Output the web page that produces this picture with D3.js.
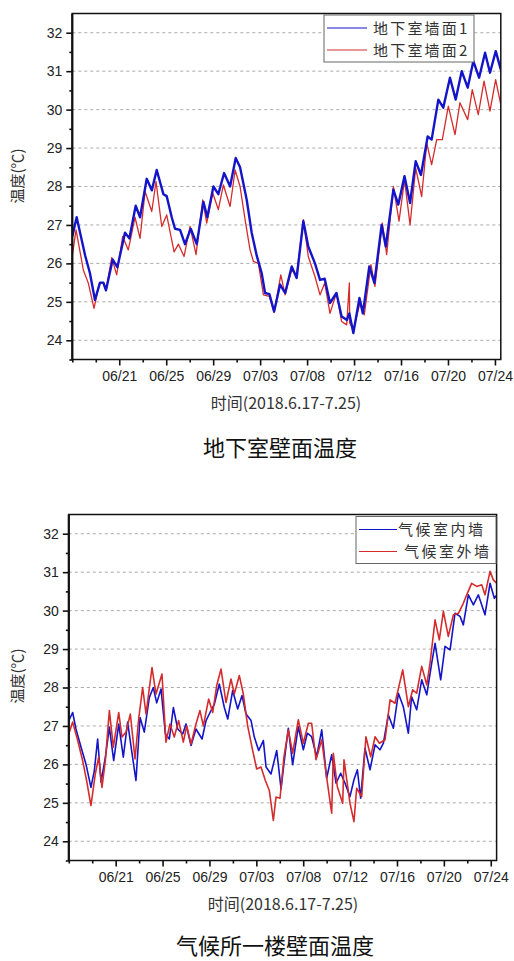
<!DOCTYPE html>
<html>
<head>
<meta charset="utf-8">
<script src="https://cdn.jsdelivr.net/npm/d3@7"></script>
<style>
  body { margin: 0; background: #fff; }
  svg { display: block; }
  .tick text { font-family: "Liberation Sans", Arial, sans-serif; font-size: 14px; fill: #222; }
  .cjk { font-family: "Noto Sans CJK SC", sans-serif; }
</style>
</head>
<body>
<svg id="fig" width="514" height="961"></svg>
<script>
// ---- data (day 0 = 06/17) ----
const tempTicks = [24, 25, 26, 27, 28, 29, 30, 31, 32];
const dayTicks = [4, 8, 12, 16, 20, 24, 28, 32, 36];
const dayTickLabels = ['06/21', '06/25', '06/29', '07/03', '07/08', '07/12', '07/16', '07/20', '07/24'];
const minorDayTicks = [0, 2, 6, 10, 14, 18, 22, 26, 30, 34];

const basementNames = ['地下室墙面1', '地下室墙面2'];
const climateNames = ['气候室内墙', '气候室外墙'];

// 地下室墙面1
const basementWall1 = [[0,26.7],[0.37,27.2],[1.1,26.2],[1.5,25.75],[1.93,25.05],[2.36,25.5],[2.65,25.5],[2.87,25.3],[3.44,26.1],[3.84,25.9],[4.49,26.8],[4.86,26.65],[5.4,27.5],[5.77,27.2],[6.34,28.2],[6.77,27.9],[7.19,28.43],[7.76,27.8],[8.04,27.75],[8.47,27.2],[8.75,26.9],[9.18,26.87],[9.6,26.5],[10.09,26.9],[10.6,26.5],[11.17,27.6],[11.5,27.2],[12.02,28.0],[12.44,27.8],[12.93,28.35],[13.44,28.0],[13.92,28.74],[14.29,28.5],[14.86,27.65],[15.28,26.8],[15.71,26.2],[16.13,25.75],[16.42,25.23],[16.79,25.2],[17.19,24.75],[17.7,25.45],[18.13,25.23],[18.69,25.92],[19.11,25.62],[19.68,27.1],[20.1,26.44],[20.67,26.0],[21.1,25.57],[21.5,25.6],[21.95,24.97],[22.5,25.23],[22.94,24.62],[23.4,24.53],[23.6,24.7],[23.94,24.19],[24.46,25.1],[24.75,24.7],[25.3,25.92],[25.73,25.49],[26.35,27.0],[26.7,26.44],[27.35,27.92],[27.77,27.53],[28.3,28.27],[28.77,27.57],[29.25,28.66],[29.7,28.3],[30.27,29.3],[30.61,29.22],[31.18,30.26],[31.6,30.05],[32.17,30.83],[32.66,30.26],[33.17,31.0],[33.68,30.57],[34.16,31.26],[34.65,30.83],[35.16,31.48],[35.58,30.96],[36.07,31.52],[36.5,31.04]];

// 地下室墙面2
const basementWall2 = [[0,26.2],[0.32,26.87],[0.94,25.83],[1.37,25.48],[1.85,24.83],[2.3,25.48],[2.6,25.5],[2.87,25.3],[3.36,26.15],[3.78,25.7],[4.29,26.7],[4.77,26.35],[5.34,27.2],[5.77,26.65],[6.2,27.87],[6.77,27.35],[7.13,28.13],[7.62,26.96],[8.04,27.26],[8.67,26.3],[9.04,26.5],[9.52,26.18],[10.03,26.96],[10.54,26.23],[11.11,27.65],[11.45,27.05],[11.96,27.83],[12.44,27.4],[12.87,28.04],[13.44,27.48],[13.87,28.43],[14.29,28.0],[14.72,27.13],[15.14,26.35],[15.43,26.05],[15.85,26.0],[16.28,25.18],[16.79,25.14],[17.19,24.72],[17.76,25.7],[18.13,25.18],[18.69,25.83],[19.11,25.7],[19.68,27.14],[20.1,26.18],[20.67,25.66],[21.1,25.18],[21.5,25.49],[21.95,24.7],[22.5,25.23],[22.94,24.49],[23.37,24.4],[23.6,25.49],[23.63,24.45],[23.94,24.27],[24.5,24.97],[24.87,24.66],[25.44,25.97],[25.78,25.4],[26.41,27.05],[26.78,26.23],[27.35,28.0],[27.83,27.1],[28.3,28.18],[28.77,27.0],[29.25,28.48],[29.76,27.74],[30.19,29.13],[30.61,28.57],[31.04,29.22],[31.52,29.22],[32.03,30.09],[32.6,29.35],[33.02,30.18],[33.68,29.74],[34.07,30.52],[34.58,29.87],[35.07,30.74],[35.58,29.96],[36.06,30.78],[36.5,30.13]];

// 气候室内墙
const climateInner = [[0,27.14],[0.33,27.35],[0.61,26.92],[1.04,26.45],[1.47,26.0],[1.89,25.4],[2.18,25.84],[2.46,26.66],[2.75,25.54],[3.12,26.19],[3.46,26.97],[3.83,26.1],[4.26,27.05],[4.65,26.19],[5.02,27.1],[5.36,26.36],[5.73,25.58],[6.08,27.22],[6.44,26.84],[6.87,27.74],[7.21,28.0],[7.5,27.6],[7.87,27.96],[8.24,26.79],[8.58,26.66],[8.92,27.48],[9.29,26.92],[9.72,26.79],[10.0,27.05],[10.43,26.49],[10.85,26.92],[11.37,26.66],[11.71,27.14],[12.05,27.35],[12.42,27.57],[12.84,28.09],[13.27,27.48],[13.56,27.18],[13.98,27.92],[14.41,27.44],[14.78,27.79],[15.12,27.31],[15.55,27.14],[15.83,26.71],[16.2,26.36],[16.6,26.62],[16.83,25.93],[17.25,25.75],[17.74,26.36],[18.11,25.36],[18.36,26.03],[18.73,26.94],[19.1,25.99],[19.58,26.98],[20.01,26.38],[20.35,26.81],[20.72,26.72],[21.15,26.2],[21.58,26.9],[22.0,25.64],[22.43,26.25],[22.8,25.51],[23.2,25.77],[23.57,25.51],[23.99,25.16],[24.33,25.6],[24.62,25.86],[24.9,25.12],[25.27,26.42],[25.7,25.86],[26.13,26.51],[26.55,26.38],[26.84,26.55],[27.26,27.29],[27.69,26.94],[28.12,27.85],[28.54,27.5],[28.97,26.81],[29.25,27.76],[29.68,27.42],[30.11,28.2],[30.54,27.81],[30.96,28.63],[31.25,29.15],[31.73,28.2],[32.1,29.07],[32.53,28.98],[32.95,29.93],[33.38,29.85],[33.66,29.63],[34.09,30.41],[34.52,30.15],[34.94,30.41],[35.51,29.89],[35.94,30.71],[36.31,30.32],[36.5,30.4]];

// 气候室外墙
const climateOuter = [[0,26.79],[0.33,27.1],[0.76,26.62],[1.18,26.1],[1.52,25.58],[1.89,24.93],[2.26,25.75],[2.55,26.19],[2.83,25.4],[3.12,26.1],[3.46,27.4],[3.8,26.45],[4.26,27.35],[4.54,26.71],[4.88,26.84],[5.25,27.31],[5.65,26.14],[5.96,27.18],[6.3,28.0],[6.59,27.31],[7.1,28.52],[7.44,27.83],[7.95,28.35],[8.29,26.58],[8.63,27.05],[9.0,26.71],[9.37,27.14],[9.77,26.58],[10.06,27.0],[10.43,26.53],[10.85,27.05],[11.19,27.4],[11.48,27.0],[11.93,27.7],[12.28,27.35],[12.62,28.05],[12.99,28.48],[13.41,27.61],[13.84,28.22],[14.12,27.83],[14.55,28.31],[14.89,27.83],[15.26,27.0],[15.69,26.36],[16.03,25.88],[16.4,25.93],[16.77,25.58],[17.11,25.32],[17.45,24.54],[17.68,25.15],[18.02,25.12],[18.36,26.2],[18.73,26.9],[19.1,26.29],[19.58,27.16],[20.01,26.55],[20.44,27.07],[20.72,27.07],[21.09,26.12],[21.58,26.64],[21.95,25.77],[22.43,24.73],[22.57,26.29],[22.91,25.42],[23.37,24.99],[23.48,26.12],[23.99,24.99],[24.33,24.51],[24.56,25.38],[24.99,25.16],[25.35,26.72],[25.76,26.2],[26.13,26.72],[26.5,26.55],[26.98,26.64],[27.41,27.68],[27.83,27.59],[28.49,28.46],[28.97,27.5],[29.34,27.94],[29.68,27.85],[30.11,28.55],[30.54,28.07],[30.82,28.63],[31.25,29.76],[31.61,29.24],[31.96,29.98],[32.38,29.33],[32.81,29.89],[33.24,29.93],[33.66,30.19],[33.95,30.41],[34.37,30.71],[34.8,30.63],[35.23,30.67],[35.51,30.41],[35.94,31.02],[36.22,30.8],[36.5,30.71]];

class WallTempChart {

  constructor(_config, _series) {
    this.config = {
      parentElement: _config.parentElement,
      left: _config.left,
      top: _config.top,
      right: _config.right,
      bottom: _config.bottom,
      lineWidths: _config.lineWidths,
      drawOrder: _config.drawOrder,
      legend: _config.legend,
      xTitleX: _config.xTitleX,
      caption: _config.caption,
      captionX: _config.captionX,
      captionY: _config.captionY,
      yTitleY: _config.yTitleY,
      colors: ['#1414c8', '#d42c2c']
    };
    this.series = _series;
    this.initVis();
  }

  initVis() {
    let vis = this;
    const c = vis.config;
    vis.width = c.right - c.left;
    vis.height = c.bottom - c.top;

    vis.svg = d3.select(c.parentElement);
    vis.chart = vis.svg.append('g')
        .attr('transform', `translate(${c.left},${c.top})`);

    vis.x = d3.scaleLinear().domain([0, 36.5]).range([0, vis.width]);
    vis.y = d3.scaleLinear().domain([23.5, 32.5]).range([vis.height, 0]);

    vis.renderVis();
  }

  renderVis() {
    let vis = this;
    const c = vis.config;

    // dashed grid
    vis.chart.selectAll('.grid')
      .data(tempTicks)
      .join('line')
        .attr('class', 'grid')
        .attr('x1', 0).attr('x2', vis.width)
        .attr('y1', d => vis.y(d)).attr('y2', d => vis.y(d))
        .attr('stroke', '#a0a0a0')
        .attr('stroke-width', 0.9)
        .attr('stroke-dasharray', '3,3');

    // series lines
    const clipId = 'clip' + Math.round(c.top);
    vis.chart.append('clipPath').attr('id', clipId)
      .append('rect').attr('width', vis.width).attr('height', vis.height);

    const line = d3.line()
        .x(d => vis.x(d[0]))
        .y(d => vis.y(d[1]));

    c.drawOrder.forEach(i => {
      vis.chart.append('path')
          .datum(vis.series[i])
          .attr('clip-path', `url(#${clipId})`)
          .attr('fill', 'none')
          .attr('stroke', c.colors[i])
          .attr('stroke-width', c.lineWidths[i])
          .attr('stroke-linejoin', 'round')
          .attr('d', line);
    });

    // axes
    const yAxis = vis.chart.append('g')
        .call(d3.axisLeft(vis.y).tickValues(tempTicks).tickSize(6).tickPadding(4));
    const yMinor = vis.chart.append('g')
        .call(d3.axisLeft(vis.y).tickValues(tempTicks.map(t => t - 0.5)).tickSize(3).tickFormat(''));
    const xAxis = vis.chart.append('g')
        .attr('transform', `translate(0,${vis.height})`)
        .call(d3.axisBottom(vis.x).tickValues(dayTicks).tickSize(6).tickPadding(6)
          .tickFormat((d, i) => dayTickLabels[i]));
    const xMinor = vis.chart.append('g')
        .attr('transform', `translate(0,${vis.height})`)
        .call(d3.axisBottom(vis.x).tickValues(minorDayTicks).tickSize(3).tickFormat(''));

    [yAxis, yMinor, xAxis, xMinor].forEach(g => {
      g.select('.domain').remove();
      g.selectAll('.tick line').attr('stroke', '#111').attr('stroke-width', 1.6);
    });

    // frame
    vis.chart.append('rect')
        .attr('width', vis.width).attr('height', vis.height)
        .attr('fill', 'none').attr('stroke', '#111').attr('stroke-width', 1.5);
    vis.chart.append('line')
        .attr('x1', 0).attr('x2', 0).attr('y1', 0).attr('y2', vis.height)
        .attr('stroke', '#111').attr('stroke-width', 2.2);

    // legend
    const lg = c.legend;
    const legend = vis.svg.append('g');
    legend.append('rect')
        .attr('x', lg.x).attr('y', lg.y).attr('width', lg.w).attr('height', lg.h)
        .attr('fill', '#fff').attr('stroke', '#666').attr('stroke-width', 1);
    lg.names.forEach((name, i) => {
      const ly = lg.y + lg.rowY[i];
      legend.append('line')
          .attr('x1', lg.x + 3).attr('x2', lg.x + lg.lineLen)
          .attr('y1', ly).attr('y2', ly)
          .attr('stroke', c.colors[i]).attr('stroke-width', 1.2);
      legend.append('text')
          .attr('class', 'cjk')
          .attr('x', lg.textX[i]).attr('y', ly + 5.5)
          .attr('font-size', 15)
          .attr('letter-spacing', lg.spacing)
          .attr('fill', '#333')
          .text(name);
    });

    // titles
    vis.svg.append('text')
        .attr('class', 'cjk')
        .attr('x', c.xTitleX).attr('y', c.bottom + 49)
        .attr('text-anchor', 'middle')
        .attr('font-size', 16).attr('fill', '#333')
        .text('时间(2018.6.17-7.25)');

    vis.svg.append('text')
        .attr('class', 'cjk')
        .attr('transform', `translate(23,${c.yTitleY}) rotate(-90)`)
        .attr('text-anchor', 'middle')
        .attr('font-size', 15).attr('fill', '#333')
        .text('温度(℃)');

    vis.svg.append('text')
        .attr('class', 'cjk')
        .attr('x', c.captionX).attr('y', c.captionY)
        .attr('text-anchor', 'middle')
        .attr('font-size', 22).attr('fill', '#111')
        .text(c.caption);
  }
}

const basementChart = new WallTempChart({
  parentElement: '#fig',
  left: 72.3, top: 13.5, right: 500.8, bottom: 359.5,
  lineWidths: [2.4, 1.3],
  drawOrder: [1, 0],
  legend: { x: 324, y: 15, w: 150, h: 47, rowY: [13, 35], lineLen: 43, textX: [373, 373], spacing: 2.2, names: basementNames },
  xTitleX: 286, caption: '地下室壁面温度', captionX: 280, captionY: 456, yTitleY: 176
}, [basementWall1, basementWall2]);

const climateChart = new WallTempChart({
  parentElement: '#fig',
  left: 68.8, top: 514.5, right: 496.6, bottom: 860.5,
  lineWidths: [1.6, 1.6],
  drawOrder: [0, 1],
  legend: { x: 356, y: 516.5, w: 140, h: 47, rowY: [13, 35], lineLen: 41, textX: [398, 404], spacing: 2.5, names: climateNames },
  xTitleX: 283, caption: '气候所一楼壁面温度', captionX: 275, captionY: 954, yTitleY: 676
}, [climateInner, climateOuter]);
</script>
</body>
</html>
